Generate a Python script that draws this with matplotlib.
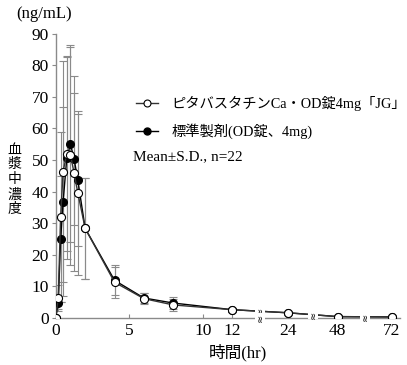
import numpy as np
import matplotlib
matplotlib.use("Agg")
import matplotlib.pyplot as plt
from matplotlib.lines import Line2D

plt.rcParams['font.family'] = ['Liberation Serif', 'Noto Sans CJK JP', 'DejaVu Sans']

# sampling times (hr)
times = [0, 0.17, 0.33, 0.5, 0.75, 1, 1.25, 1.5, 2, 4, 6, 8, 12, 24, 48, 72]

# test drug (open circles)
test_mean = [0, 6.2, 32, 46.3, 52, 51.6, 45.8, 39.6, 28.3, 11.2, 6.0, 4.0, 2.5, 1.5, 0.3, 0.2]
test_sd = [0, 4, 27, 35, 31, 35, 31, 26, 16, 5, 1.7, 1.8, 0.6, 0.3, 0.1, 0.1]

# reference drug (filled circles)
ref_mean = [0, 4.7, 24.8, 36.7, 50.6, 55, 50.3, 43.6, 28.3, 11.8, 6.2, 4.6, 2.5, 1.5, 0.3, 0.2]
ref_sd = [0, 2, 20, 30, 32, 31, 21, 21, 16, 4.8, 1.5, 1.9, 0.6, 0.3, 0.1, 0.1]

label_test = "ピタバスタチンCa・OD錠4mg「JG」"
label_ref = "標準製剤(OD錠、4mg)"
ylabel_chars = "血漿中濃度"

xticks = [0, 5, 10, 12, 24, 48, 72]
yticks = list(range(0, 91, 10))
breaks = [18, 36, 60]

# broken time axis: linear to 12 h, then compressed segments
seg_t = [0, 12, 24, 48, 72, 80]
seg_x = [0, 12, 15.83, 19.18, 22.88, 23.43]


def fwd(t):
    return np.interp(t, seg_t, seg_x)


def inv(x):
    return np.interp(x, seg_x, seg_t)


fig = plt.figure(figsize=(4.07, 3.65), dpi=100)
ax = fig.add_axes([0.137, 0.130, 0.846, 0.777])
ax.set_xscale('function', functions=(fwd, inv))

ebar_kw = dict(ecolor='#8a8a8a', elinewidth=0.8, capsize=3, capthick=0.8)
ax.errorbar(times, ref_mean, yerr=ref_sd, fmt='none', zorder=2, **ebar_kw)
ax.errorbar(times, test_mean, yerr=test_sd, fmt='none', zorder=2, **ebar_kw)
ax.plot(times, ref_mean, color='black', lw=1.0, marker='o', ms=5.5,
        mfc='black', mec='black', zorder=3)
ax.plot(times, test_mean, color='#333333', lw=1.0, marker='o', ms=5.8,
        mfc='white', mec='black', mew=0.8, zorder=4)

# break marks on the curve and the axis
tmean = np.array(test_mean)
bbox_w = dict(boxstyle='square,pad=0.0', fc='white', ec='none')
for b in breaks:
    yb = np.interp(fwd(b), fwd(np.array(times, float)), tmean)
    ax.text(b, yb, '≈', rotation=90, ha='center', va='center', fontsize=7,
            family='DejaVu Sans', zorder=6, bbox=bbox_w)
ax.text(breaks[0], 0, '≈', rotation=90, ha='center', va='center', fontsize=7,
        family='DejaVu Sans', zorder=6, clip_on=False, bbox=bbox_w)

ax.set_xlim(0, 80)
ax.set_ylim(0, 90)
ax.set_xticks(xticks)
ax.set_xticklabels([str(v) for v in xticks])
ax.set_yticks(yticks)
ax.minorticks_off()
for s in ['top', 'right']:
    ax.spines[s].set_visible(False)
for s in ['left', 'bottom']:
    ax.spines[s].set_color('#8a8a8a')
    ax.spines[s].set_linewidth(1.0)
ax.tick_params(axis='y', direction='out', length=3, width=0.8, color='#8a8a8a',
               labelsize=12.5, pad=2)
ax.tick_params(axis='x', direction='in', length=3, width=0.8, color='#8a8a8a',
               labelsize=12.5, pad=4)

fig.text(0.108, 0.962, "(ng/mL)", fontsize=12, ha='center', va='center')
for i, ch in enumerate(ylabel_chars):
    fig.text(0.036, 0.589 - i * 0.041, ch, fontsize=10, ha='center', va='center')
fig.text(0.585, 0.035, "時間(hr)", fontsize=12, ha='center', va='center')

handles = [
    Line2D([], [], color='#333333', lw=1.0, marker='o', ms=5, mfc='white', mec='black', mew=0.8),
    Line2D([], [], color='black', lw=1.0, marker='o', ms=5, mfc='black', mec='black'),
]
ax.legend(handles, [label_test, label_ref], loc='upper left',
          bbox_to_anchor=(0.215, 0.80), frameon=False, fontsize=10.3,
          handlelength=1.6, handletextpad=0.9, labelspacing=0.85,
          borderaxespad=0)
ax.text(0.225, 0.566, "Mean±S.D., n=22", transform=ax.transAxes, fontsize=11,
        ha='left', va='center')

fig.savefig("out.png", dpi=100)
